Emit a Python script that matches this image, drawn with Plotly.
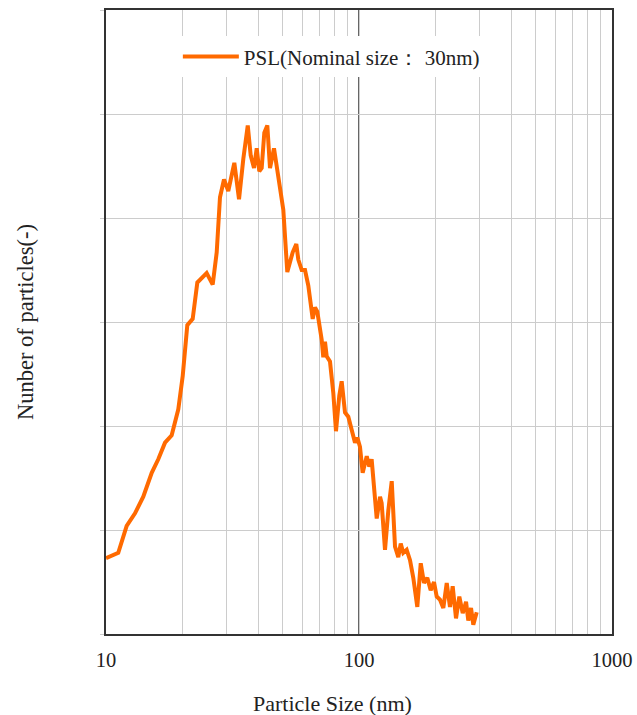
import plotly.graph_objects as go

# Particle size (nm) and number of particles (arbitrary units)
size_nm = [10.0, 11.18, 12.07, 13.02, 14.04, 15.16, 16.09, 17.11, 18.18, 19.31,
           20.10, 20.96, 22.01, 22.96, 25.00, 26.41, 27.39, 28.22, 29.27, 30.43,
           32.15, 33.56, 34.90, 36.33, 37.33, 38.46, 39.42, 40.36, 41.25, 42.24,
           43.41, 44.49, 46.13, 47.97, 50.21, 52.07, 54.69, 56.52, 57.56, 59.37,
           61.18, 63.04, 65.61, 67.00, 68.42, 71.21, 72.25, 73.38, 74.52, 76.79,
           79.13, 81.10, 83.57, 85.42, 88.04, 90.72, 94.44, 96.43, 98.47, 100.9,
           103.4, 107.3, 109.8, 112.2, 117.5, 121.1, 122.9, 126.7, 130.6, 134.7,
           138.8, 143.0, 146.2, 149.6, 154.3, 159.1, 163.9, 170.0, 175.4, 180.7,
           186.2, 192.0, 197.9, 202.8, 209.0, 215.4, 222.2, 228.9, 234.6, 241.8,
           249.2, 257.0, 264.9, 270.4, 277.2, 283.0, 291.9]
count = [0.73, 0.78, 1.04, 1.16, 1.32, 1.55, 1.68, 1.84, 1.91, 2.16,
         2.48, 2.97, 3.03, 3.38, 3.47, 3.36, 3.67, 4.20, 4.37, 4.26,
         4.53, 4.18, 4.57, 4.89, 4.60, 4.48, 4.67, 4.45, 4.48, 4.82,
         4.89, 4.48, 4.67, 4.42, 4.08, 3.48, 3.67, 3.75, 3.60, 3.50,
         3.50, 3.35, 3.03, 3.14, 3.10, 2.83, 2.66, 2.81, 2.67, 2.62,
         2.32, 1.95, 2.29, 2.43, 2.13, 2.09, 1.90, 1.84, 1.89, 1.80,
         1.55, 1.71, 1.61, 1.68, 1.11, 1.32, 1.26, 0.81, 1.19, 1.47,
         0.84, 0.74, 0.87, 0.78, 0.81, 0.71, 0.54, 0.26, 0.68, 0.49,
         0.54, 0.42, 0.50, 0.36, 0.33, 0.25, 0.49, 0.26, 0.46, 0.15,
         0.36, 0.20, 0.31, 0.13, 0.25, 0.09, 0.21]

series_name = "PSL(Nominal size\uff1a 30nm)"
x_ticks = [10, 100, 1000]
x_tick_text = ["10", "100", "1000"]
x_minor = [20, 30, 40, 50, 60, 70, 80, 90, 200, 300, 400, 500, 600, 700, 800, 900]
y_range = [0, 6]

FONT = "Liberation Serif, Times New Roman, serif"
TXT = "#222222"

fig = go.Figure()
fig.add_trace(go.Scatter(
    x=size_nm, y=count, mode="lines", name=series_name,
    line=dict(color="#FF6A00", width=4),
))

fig.add_shape(type="line", xref="x", yref="paper", x0=100, x1=100, y0=0, y1=1,
              line=dict(color="#333333", width=1.5), layer="below")

fig.update_layout(
    autosize=False,
    width=637, height=715,
    margin=dict(l=106, r=25, t=10, b=81),
    paper_bgcolor="white", plot_bgcolor="white",
    font=dict(family=FONT, size=20, color=TXT),
    showlegend=True,
    legend=dict(x=0.142, y=0.925, xanchor="left", yanchor="middle",
                bgcolor="white", borderwidth=0, itemwidth=56,
                font=dict(family=FONT, size=21, color=TXT)),
    xaxis=dict(type="log", range=[1, 3], tickvals=x_ticks, ticktext=x_tick_text,
               automargin=False,
               showgrid=True, gridcolor="#CCCCCC", gridwidth=1,
               minor=dict(tickvals=x_minor, showgrid=True, gridcolor="#CCCCCC", gridwidth=1),
               showline=True, linecolor="#333333", linewidth=1.5, mirror=True,
               ticks="", ticklabelstandoff=7,
               tickfont=dict(family=FONT, size=20.5, color=TXT), zeroline=False),
    yaxis=dict(range=y_range, dtick=1, showticklabels=False, automargin=False,
               showgrid=True, gridcolor="#CCCCCC", gridwidth=1,
               showline=True, linecolor="#333333", linewidth=1.5, mirror=True,
               ticks="outside", ticklen=4, tickcolor="#CCCCCC", zeroline=False,
               title=dict(text="Nunber of particles(-)", standoff=60,
                          font=dict(family=FONT, size=22.5, color=TXT))),
    annotations=[dict(text="Particle Size (nm)", xref="paper", yref="paper",
                      x=(332 - 106) / 506, y=-(703 - 634) / 624,
                      xanchor="center", yanchor="middle", showarrow=False,
                      font=dict(family=FONT, size=22, color=TXT))],
)

fig.write_html(
    "out.html",
    config=dict(responsive=False, displayModeBar=False),
    post_script="document.body.style.margin='0';document.body.style.overflow='hidden';",
)
